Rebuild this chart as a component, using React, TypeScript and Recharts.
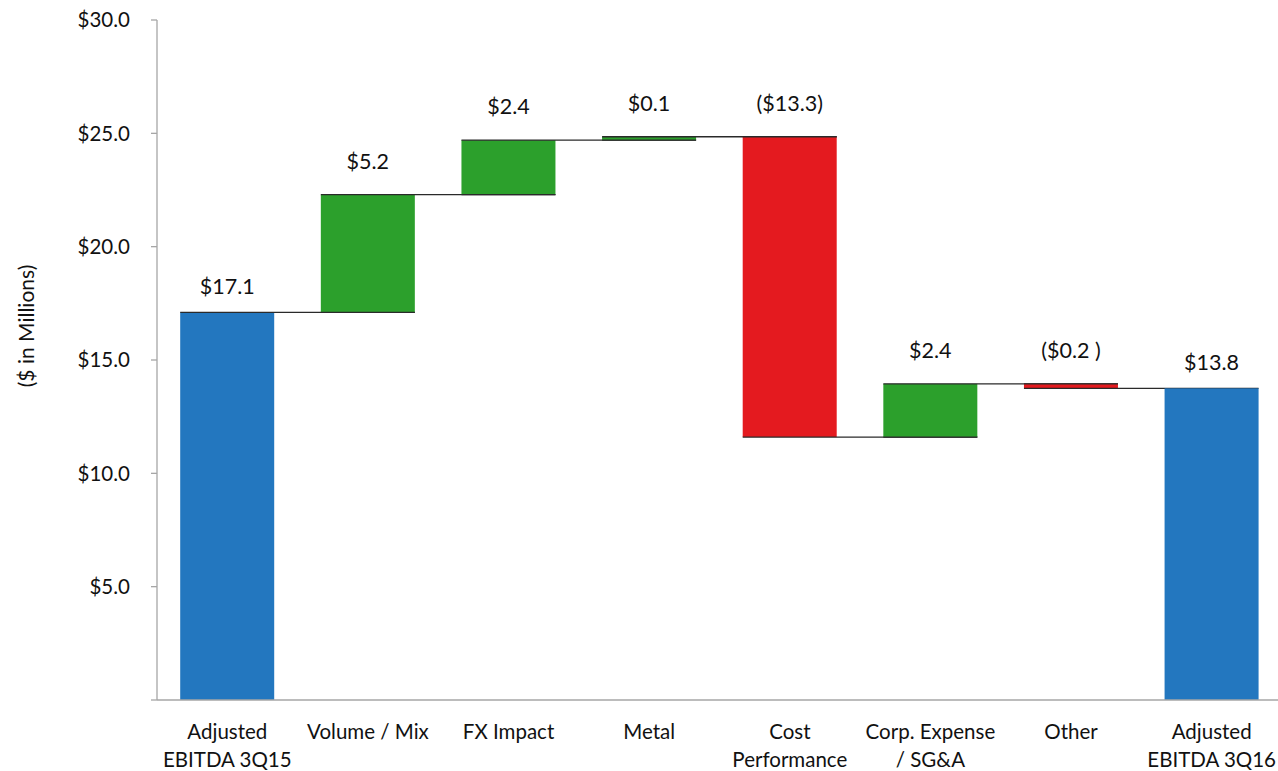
import { BarChart, Bar, XAxis, YAxis, LabelList } from "recharts"

// categories (use \n to break a tick label onto two lines)
const categories = [
  "Adjusted\nEBITDA 3Q15",
  "Volume / Mix",
  "FX Impact",
  "Metal",
  "Cost\nPerformance",
  "Corp. Expense\n/ SG&A",
  "Other",
  "Adjusted\nEBITDA 3Q16",
]
// "total" bars start at zero, "delta" bars float on the running total
const kinds = ["total", "delta", "delta", "delta", "delta", "delta", "delta", "total"]
const amounts = [17.1, 5.2, 2.4, 0.15, -13.25, 2.35, -0.2, 13.75]
const valueLabels = ["$17.1", "$5.2", "$2.4", "$0.1", "($13.3)", "$2.4", "($0.2 )", "$13.8"]
const yTicks = [0, 5, 10, 15, 20, 25, 30]

const BLUE = "#2377bf"
const GREEN = "#2ca02c"
const RED = "#e41a1f"
const FONT = "Lato, 'DejaVu Sans', sans-serif"

const CHART_W = 1284
const CHART_H = 771
const MARGIN = { top: 20, right: 2, bottom: 0, left: 0 }
const Y_AXIS_W = 157
const X_AXIS_H = 71

// build the stacked table: invisible base + visible piece
let running = 0
const data = categories.map((name, i) => {
  const kind = kinds[i]
  const amt = amounts[i]
  let base = 0
  let value = amt
  if (kind === "total") {
    running = amt
  } else {
    base = amt >= 0 ? running : running + amt
    value = Math.abs(amt)
    running = running + amt
  }
  const color = kind === "total" ? BLUE : amt >= 0 ? GREEN : RED
  return { name, kind, base, value, color, negative: kind === "delta" && amt < 0, label: valueLabels[i] }
})

const step = (CHART_W - MARGIN.left - MARGIN.right - Y_AXIS_W) / categories.length

const WaterfallBar = (props: any) => {
  const { x, y, width, height, payload, index } = props
  // level where this bar ends (top for rises / totals, bottom for drops)
  const endY = payload.negative ? y + height : y
  const startY = payload.negative ? y : y + height
  const last = index === data.length - 1
  return (
    <g>
      <rect x={x} y={y} width={width} height={Math.max(height, 0)} fill={payload.color} />
      {!last && (
        <line x1={x} x2={x + step + width} y1={endY} y2={endY} stroke="#2a2a2a" strokeWidth={1.3} />
      )}
      {payload.kind === "delta" && (
        <line x1={x} x2={x + width} y1={startY} y2={startY} stroke="#2a2a2a" strokeWidth={1.3} />
      )}
    </g>
  )
}

const ValueLabel = (props: any) => {
  const { x, y, width, index, value } = props
  const lift = kinds[index] === "total" ? 18 : 26
  return (
    <text x={x + width / 2} y={y - lift} textAnchor="middle" fontSize={21.5} fontFamily={FONT} fill="#111">
      {value}
    </text>
  )
}

const CategoryTick = (props: any) => {
  const { x, y, payload } = props
  const lines = String(payload.value).split("\n")
  return (
    <g>
      {lines.map((line, i) => (
        <text key={i} x={x} y={y + 39 + i * 28} textAnchor="middle" fontSize={20.5} fontFamily={FONT} fill="#111">
          {line}
        </text>
      ))}
    </g>
  )
}

const AxisTitle = (props: any) => {
  const vb = props.viewBox
  const cx = 25
  const cy = vb.y + vb.height / 2 - 34
  return (
    <text x={cx} y={cy} transform={`rotate(-90, ${cx}, ${cy})`} textAnchor="middle" dominantBaseline="central" fontSize={21} fontFamily={FONT} fill="#111">
      ($ in Millions)
    </text>
  )
}

export default function App() {
  return (
    <div style={{ width: 1278, height: 771, overflow: "hidden", background: "#fff" }}>
      <style>{`body{margin:0}`}</style>
      <BarChart width={CHART_W} height={CHART_H} data={data} margin={MARGIN} barCategoryGap="16.5%">
        <XAxis
          dataKey="name"
          height={X_AXIS_H}
          tick={<CategoryTick />}
          tickLine={false}
          tickSize={0}
          tickMargin={0}
          interval={0}
          axisLine={{ stroke: "#a6a6a6", strokeWidth: 1.3 }}
        />
        <YAxis
          width={Y_AXIS_W}
          domain={[0, 30]}
          ticks={yTicks}
          interval={0}
          tickSize={6}
          tickMargin={21}
          tickFormatter={(v) => (v === 0 ? "" : `$${Number(v).toFixed(1)}`)}
          tick={{ fontSize: 20.5, fontFamily: FONT, fill: "#111" }}
          axisLine={{ stroke: "#a6a6a6", strokeWidth: 1.3 }}
          tickLine={{ stroke: "#a6a6a6", strokeWidth: 1.3 }}
          label={<AxisTitle />}
        />
        <Bar dataKey="base" stackId="w" fill="transparent" isAnimationActive={false} />
        <Bar dataKey="value" stackId="w" shape={<WaterfallBar />} isAnimationActive={false}>
          <LabelList dataKey="label" content={<ValueLabel />} />
        </Bar>
      </BarChart>
    </div>
  )
}
